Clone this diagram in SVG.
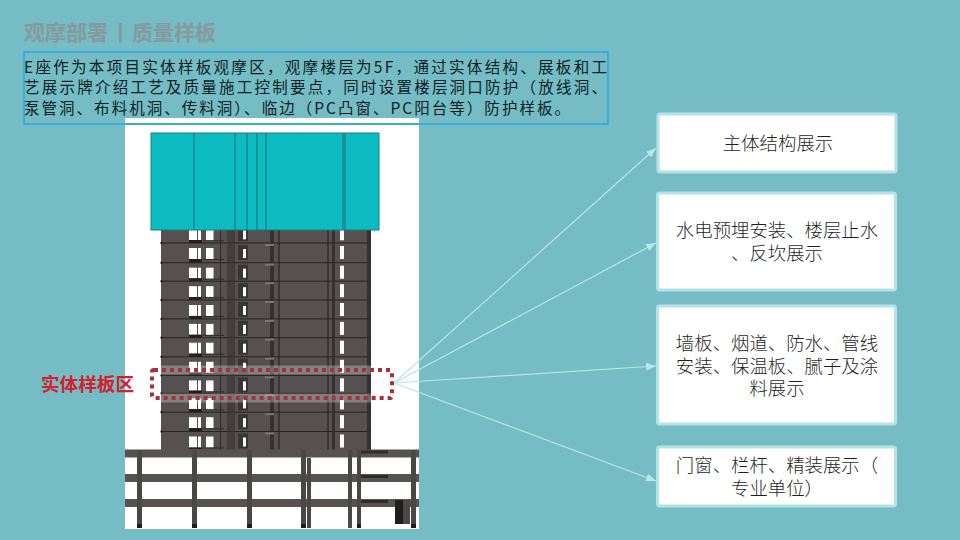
<svg xmlns="http://www.w3.org/2000/svg" xmlns:xlink="http://www.w3.org/1999/xlink" width="960" height="540" viewBox="0 0 960 540">
<style>
text{font-family:"Noto Sans CJK SC","Noto Sans",sans-serif}
.title{font-size:21px;font-weight:700;fill:#85999e}
.para{font-size:15.5px;fill:#0b2227}
.card{fill:#fff;stroke:#b3e3e6;stroke-width:3}
.cardt{font-size:18.4px;fill:#1f1f1f;text-anchor:middle;font-weight:300}
.conn{stroke:#b6e6e8;stroke-width:1.2;fill:none;marker-end:url(#ah)}
.win{fill:#fff}
.dk{fill:#353130}
.cap{fill:#0dbcc0;stroke:#1a7d85;stroke-width:1}
.capl{stroke:#1f6f78;stroke-width:1}
.band{fill:#575351}
.col{fill:#4a4745}
.foot{fill:#1e1c1b}
</style>
<defs>
<marker id="ah" viewBox="0 0 10 8" refX="10" refY="4" markerUnits="userSpaceOnUse" markerWidth="10" markerHeight="8" orient="auto"><path d="M0 0L10 4L0 8Z" fill="#b6e6e8"/></marker>
<g id="floor">
<rect x="161" y="-0.5" width="210" height="1" fill="#262322"/>
<rect x="189" y="5" width="8" height="11" class="win"/>
<rect x="198" y="5" width="3" height="11" class="win"/>
<rect x="206" y="5" width="7.500" height="11" class="win"/>
<rect x="189" y="-3" width="13" height="3" fill="#231f1e"/>
<rect x="189" y="16" width="13" height="1.500" fill="#231f1e"/>
<rect x="203" y="16" width="21" height="1" fill="#2f2b2a"/>
<rect x="220" y="0" width="1" height="19" fill="#2f2b2a"/>
<rect x="227" y="0" width="8" height="19" fill="#423e3c"/>
<rect x="238" y="2" width="10" height="15" fill="#393533"/>
<rect x="243" y="6" width="3" height="9" class="win"/>
<rect x="265" y="1" width="9" height="2" fill="#7a7572"/>
<rect x="270" y="3" width="4" height="16" class="dk"/>
<rect x="278.500" y="0" width="1" height="19" fill="#1f1c1b"/>
<rect x="327.500" y="0" width="1" height="19" fill="#1f1c1b"/>
<rect x="332" y="0" width="3" height="19" class="dk"/>
<rect x="340" y="3" width="4" height="13" class="win"/>
<rect x="367" y="0" width="4" height="19" class="dk"/>
<rect x="160.500" y="-1" width="2" height="2" fill="#1c1a19"/>
</g>
<g id="deck">
<rect x="125" y="0" width="294" height="8" class="band"/>
<rect x="360" y="1" width="28" height="3" fill="#2f2c2b"/>
</g>
</defs>
<rect width="960" height="540" fill="#75bcc4"/>
<text class="title" x="24" y="40">观摩部署</text>
<text class="title" x="110" y="40">丨</text>
<text class="title" x="132" y="40">质量样板</text>
<g id="model">
<rect x="125" y="118" width="294" height="411" fill="#fff"/>
<rect x="161" y="230" width="210" height="220" fill="#565150"/>
<use xlink:href="#floor" y="224.300"/><use xlink:href="#floor" y="243"/><use xlink:href="#floor" y="262.700"/><use xlink:href="#floor" y="281.200"/><use xlink:href="#floor" y="300"/><use xlink:href="#floor" y="318.900"/><use xlink:href="#floor" y="337.700"/><use xlink:href="#floor" y="356.800"/><use xlink:href="#floor" y="375.400"/><use xlink:href="#floor" y="393.400"/><use xlink:href="#floor" y="412.200"/><use xlink:href="#floor" y="431.500"/>
<rect x="151" y="133" width="228" height="97" class="cap"/>
<path class="capl" d="M194 133V230M235 133V230M247 133V230M257 133V230M266 133V230M343 133V230M345 133V230"/>
<use xlink:href="#deck" y="449.500"/><use xlink:href="#deck" y="474"/><use xlink:href="#deck" y="499"/>
<rect x="137" y="450" width="5" height="78" class="col"/><rect x="192" y="450" width="5" height="78" class="col"/><rect x="247" y="450" width="5" height="78" class="col"/><rect x="301" y="450" width="5" height="78" class="col"/><rect x="307" y="458" width="4" height="70" class="col"/><rect x="348" y="450" width="4" height="78" class="col"/><rect x="357" y="450" width="4" height="78" class="col"/><rect x="411" y="450" width="5" height="78" class="col"/>
<rect x="137" y="524" width="5" height="4" class="foot"/><rect x="192" y="524" width="5" height="4" class="foot"/><rect x="247" y="524" width="5" height="4" class="foot"/><rect x="301" y="524" width="5" height="4" class="foot"/><rect x="357" y="524" width="4" height="4" class="foot"/><rect x="411" y="524" width="5" height="4" class="foot"/>
<rect x="395" y="500" width="8" height="24" fill="#201e1d"/><rect x="403" y="500" width="7" height="24" fill="#4b4846"/>
</g>
<g id="intro">
<rect x="24" y="52" width="584" height="72" fill="none" stroke="#37afdc" stroke-width="2"/>
<text class="para" x="24" y="72.500" textLength="583" lengthAdjust="spacing">E座作为本项目实体样板观摩区，观摩楼层为5F，通过实体结构、展板和工</text>
<text class="para" x="24" y="93" textLength="583" lengthAdjust="spacing">艺展示牌介绍工艺及质量施工控制要点，同时设置楼层洞口防护（放线洞、</text>
<text class="para" x="24" y="113.500" textLength="546" lengthAdjust="spacing">泵管洞、布料机洞、传料洞）、临边（PC凸窗、PC阳台等）防护样板。</text>
</g>
<g id="connectors">
<path class="conn" d="M394 383L656 148"/>
<path class="conn" d="M394 383L656 243"/>
<path class="conn" d="M394 383L656 366"/>
<path class="conn" d="M394 383L656 481"/>
</g>
<g id="zone">
<rect x="152" y="370" width="240" height="28" fill="none" stroke="#fff" stroke-opacity="0.28" stroke-width="9"/>
<rect x="152" y="370" width="240" height="28" rx="2" fill="none" stroke="#a82f3c" stroke-width="4" stroke-dasharray="4 4"/>
<text x="41" y="391" font-size="18.600" font-weight="700" fill="#d4202e">实体样板区</text>
</g>
<g id="card1"><rect class="card" x="658" y="114" width="238" height="58" rx="2"/><text class="cardt" x="778" y="150">主体结构展示</text></g>
<g id="card2"><rect class="card" x="657.500" y="193" width="238" height="97" rx="2"/><text class="cardt" x="777" y="237">水电预埋安装、楼层止水</text><text class="cardt" x="777" y="260">、反坎展示</text></g>
<g id="card3"><rect class="card" x="657.500" y="306" width="238" height="118" rx="2"/><text class="cardt" x="777" y="350">墙板、烟道、防水、管线</text><text class="cardt" x="777" y="372.500">安装、保温板、腻子及涂</text><text class="cardt" x="777" y="395">料展示</text></g>
<g id="card4"><rect class="card" x="657.500" y="447" width="238" height="59" rx="2"/><text class="cardt" x="777" y="472">门窗、栏杆、精装展示（</text><text class="cardt" x="777" y="494.500">专业单位）</text></g>
</svg>
